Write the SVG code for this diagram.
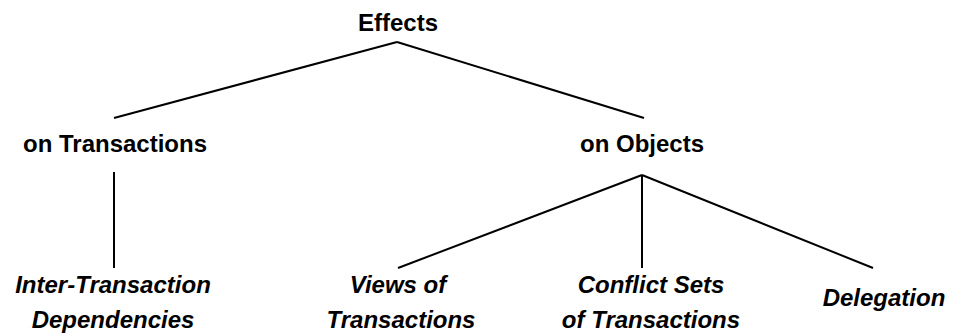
<svg xmlns="http://www.w3.org/2000/svg" width="954" height="334" viewBox="0 0 954 334">
<style>
text{font-family:"Liberation Sans",Arial,sans-serif;font-size:24px;font-weight:bold;fill:#000;text-anchor:middle}
.i{font-style:italic}
.c line{stroke:#000;stroke-width:2;fill:none}
</style>
<rect width="954" height="334" fill="#fff"/>
<g class="c" id="connectors">
<line x1="397" y1="42" x2="114" y2="118"/>
<line x1="397" y1="42" x2="644" y2="118"/>
<line x1="114" y1="172" x2="114" y2="268"/>
<line x1="642" y1="175" x2="398" y2="268"/>
<line x1="642" y1="175" x2="642" y2="268"/>
<line x1="642" y1="175" x2="873" y2="268"/>
</g>
<g id="effects"><text x="398" y="31">Effects</text></g>
<g id="onTransactions"><text x="115" y="152">on Transactions</text></g>
<g id="onObjects"><text x="642" y="152">on Objects</text></g>
<g id="interTx"><text class="i" x="113" y="293">Inter-Transaction</text><text class="i" x="113" y="328">Dependencies</text></g>
<g id="views"><text class="i" x="398" y="293">Views of</text><text class="i" x="401" y="328">Transactions</text></g>
<g id="conflict"><text class="i" x="651" y="293">Conflict Sets</text><text class="i" x="651" y="328">of Transactions</text></g>
<g id="delegation"><text class="i" x="884" y="306">Delegation</text></g>
</svg>
